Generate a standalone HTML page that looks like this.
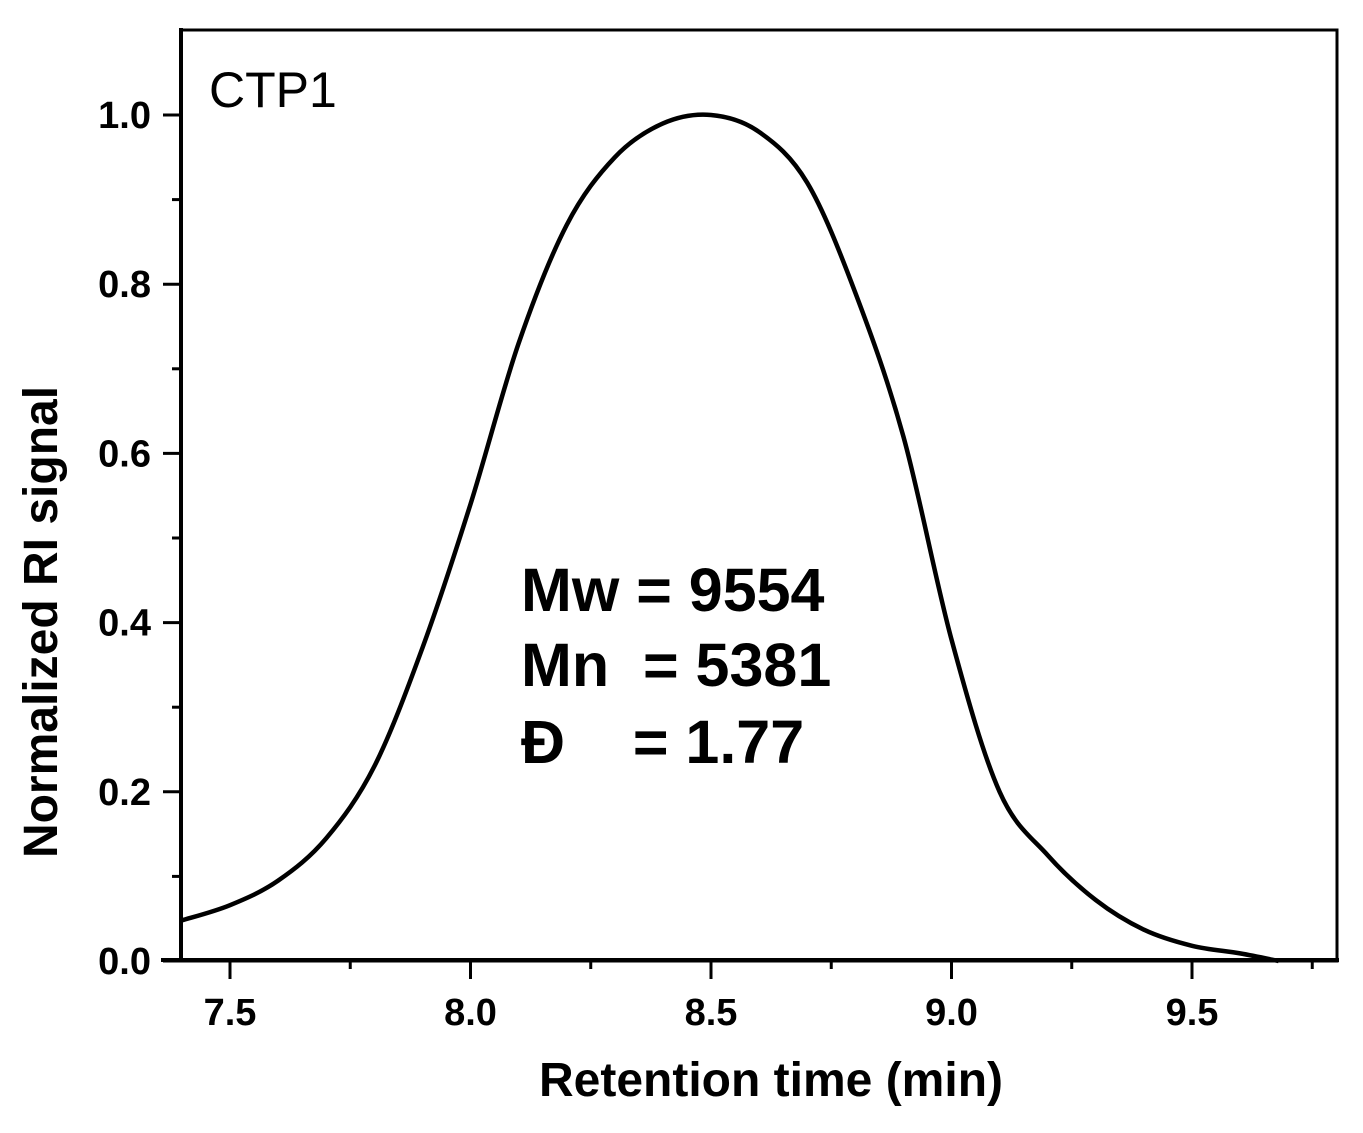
<!DOCTYPE html>
<html><head><meta charset="utf-8"><style>
body{margin:0;background:#fff}
svg text{font-family:"Liberation Sans",Arial,sans-serif;font-weight:bold;fill:#000;white-space:pre}
</style></head><body>
<svg width="1363" height="1128" xmlns="http://www.w3.org/2000/svg">
<g id="ax"></g>
<path id="curve" fill="none" stroke="#000" style="stroke-width:4.5px"/>
<text x="209" y="107" style="font-size:50px;font-weight:normal">CTP1</text>
<text x="521" y="611" style="font-size:61px">Mw = 9554</text>
<text x="521" y="686" style="font-size:61px">Mn  = 5381</text>
<text x="521" y="763" style="font-size:61px">Đ    = 1.77</text>
<text x="771" y="1096" style="font-size:48px" text-anchor="middle">Retention time (min)</text>
<text transform="translate(57,622) rotate(-90)" style="font-size:48px" text-anchor="middle">Normalized RI signal</text>
</svg>
<script>
const xs=[7.4,7.5,7.6,7.7,7.8,7.9,8.0,8.1,8.2,8.3,8.4,8.5,8.6,8.7,8.8,8.9,9.0,9.1,9.2,9.3,9.4,9.5,9.6,9.68];
const ys=[0.048,0.066,0.095,0.145,0.23,0.37,0.54,0.73,0.87,0.95,0.99,1.0,0.98,0.92,0.79,0.62,0.38,0.2,0.125,0.072,0.037,0.018,0.009,0.0];
const xTicks=[7.5,8.0,8.5,9.0,9.5];
const xTickLabels=["7.5","8.0","8.5","9.0","9.5"];
const yTicks=[0,0.2,0.4,0.6,0.8,1.0];
const yTickLabels=["0.0","0.2","0.4","0.6","0.8","1.0"];
const X=v=>230+(v-7.5)*481, Y=v=>961-v*846;
const ns="http://www.w3.org/2000/svg", ax=document.getElementById('ax');
function mk(t,a){const e=document.createElementNS(ns,t);for(const k in a)e.setAttribute(k,a[k]);ax.appendChild(e);return e;}
let f=mk('rect',{x:181,y:30,width:1156,height:931,fill:'none',stroke:'#000','stroke-width':3});


let b=mk('line',{x1:161,y1:960,x2:1339,y2:960,stroke:'#000','stroke-width':4});


let l=mk('line',{x1:181,y1:28,x2:181,y2:962,stroke:'#000','stroke-width':4});


for(let v=7.5;v<=9.76;v+=0.25){const maj=Math.abs(v*2-Math.round(v*2))<1e-6;
 const t=mk('line',{x1:X(v),x2:X(v),y1:960,y2:maj?979:969,stroke:'#000','stroke-width':3});
 
 }
xTicks.forEach((v,i)=>{const t=mk('text',{x:X(v),y:1025,'text-anchor':'middle',style:'font-size:38px'});t.textContent=xTickLabels[i];
 
 });
for(let v=0;v<=1.05;v+=0.1){const maj=Math.round(v*10)%2==0;
 const t=mk('line',{x1:maj?163:172,x2:181,y1:Y(v),y2:Y(v),stroke:'#000','stroke-width':3});
 
 }
yTicks.forEach((v,i)=>{const t=mk('text',{x:151,y:Y(v)+13,'text-anchor':'end',style:'font-size:38px'});t.textContent=yTickLabels[i];
 
 });
const P=xs.map((x,i)=>[X(x),Y(ys[i])]);
let d='M'+P[0][0]+','+P[0][1];
for(let i=0;i<P.length-1;i++){const p0=P[Math.max(0,i-1)],p1=P[i],p2=P[i+1],p3=P[Math.min(P.length-1,i+2)];
 d+=` C${p1[0]+(p2[0]-p0[0])/6},${p1[1]+(p2[1]-p0[1])/6} ${p2[0]-(p3[0]-p1[0])/6},${p2[1]-(p3[1]-p1[1])/6} ${p2[0]},${p2[1]}`;}
document.getElementById('curve').setAttribute('d',d);
</script>
</body></html>
